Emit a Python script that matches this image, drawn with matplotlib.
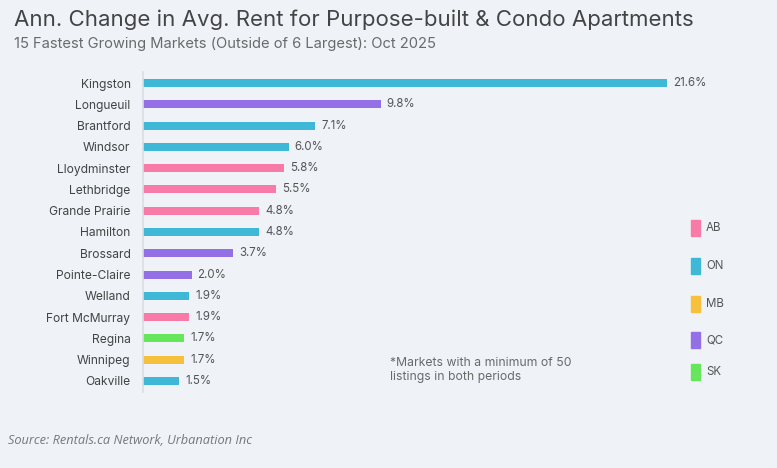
import matplotlib
matplotlib.use("Agg")
from matplotlib import pyplot as plt
from matplotlib.patches import Rectangle

markets = ["Kingston", "Longueuil", "Brantford", "Windsor", "Lloydminster",
           "Lethbridge", "Grande Prairie", "Hamilton", "Brossard", "Pointe-Claire",
           "Welland", "Fort McMurray", "Regina", "Winnipeg", "Oakville"]
change = [21.6, 9.8, 7.1, 6.0, 5.8, 5.5, 4.8, 4.8, 3.7, 2.0, 1.9, 1.9, 1.7, 1.7, 1.5]
province = ["ON", "QC", "ON", "ON", "AB", "AB", "AB", "ON", "QC", "QC",
            "ON", "AB", "SK", "MB", "ON"]

legend_order = ["AB", "ON", "MB", "QC", "SK"]
colors = {"AB": "#f77ba6", "ON": "#3eb8d6", "MB": "#f7c03c",
          "QC": "#9370e6", "SK": "#66e65a"}

bg = "#eff3f8"
plt.rcParams['font.family'] = ['Inter', 'DejaVu Sans']

W, H = 777, 468
fig = plt.figure(figsize=(W / 100, H / 100), dpi=100, facecolor=bg)

# axes placed in pixel terms: left edge 143, right edge at end of longest bar
left, right, top, bottom = 143, 667, 72.4, 391.6
ax = fig.add_axes([left / W, 1 - bottom / H, (right - left) / W, (bottom - top) / H])
ax.set_facecolor(bg)

ypos = list(range(len(markets)))
ax.barh(ypos, change, height=0.38, color=[colors[p] for p in province])
ax.set_xlim(0, max(change))
ax.set_ylim(len(markets) - 0.5, -0.5)

for y, v in zip(ypos, change):
    ax.text(v + 0.25, y, f"{v:.1f}%", va="center", ha="left",
            fontsize=8.3, color="#555555", clip_on=False)

ax.set_yticks(ypos)
ax.set_yticklabels(markets, fontsize=8.7, color="#444444")
ax.tick_params(axis="y", length=0, pad=9)
ax.set_xticks([])
for s in ["top", "right", "bottom"]:
    ax.spines[s].set_visible(False)
ax.spines["left"].set_color("#d9dee5")
ax.spines["left"].set_linewidth(1.2)

fig.text(14 / W, 1 - 20 / H, "Ann. Change in Avg. Rent for Purpose-built & Condo Apartments",
         fontsize=16, color="#444444", va="center", ha="left")
fig.text(14 / W, 1 - 44 / H, "15 Fastest Growing Markets (Outside of 6 Largest): Oct 2025",
         fontsize=10.6, color="#6a6a6a", va="center", ha="left")

# legend
leg_y = [228, 266, 304, 340, 372]
for p, y in zip(legend_order, leg_y):
    fig.add_artist(Rectangle(((691) / W, 1 - (y + 8) / H), 9 / W, 16 / H,
                             transform=fig.transFigure, color=colors[p]))
    fig.text(706 / W, 1 - y / H, p, fontsize=8.3, color="#555555", va="center", ha="left")

fig.text(390 / W, 1 - 370 / H, "*Markets with a minimum of 50\nlistings in both periods",
         fontsize=8.8, color="#6a6a6a", va="center", ha="left", linespacing=1.3)

fig.text(8 / W, 1 - 441 / H, "Source: Rentals.ca Network, Urbanation Inc",
         fontsize=9.2, color="#777777", style="italic", va="center", ha="left",
         family=["Open Sans", "DejaVu Sans"])

fig.savefig("out.png", dpi=100, facecolor=bg)
